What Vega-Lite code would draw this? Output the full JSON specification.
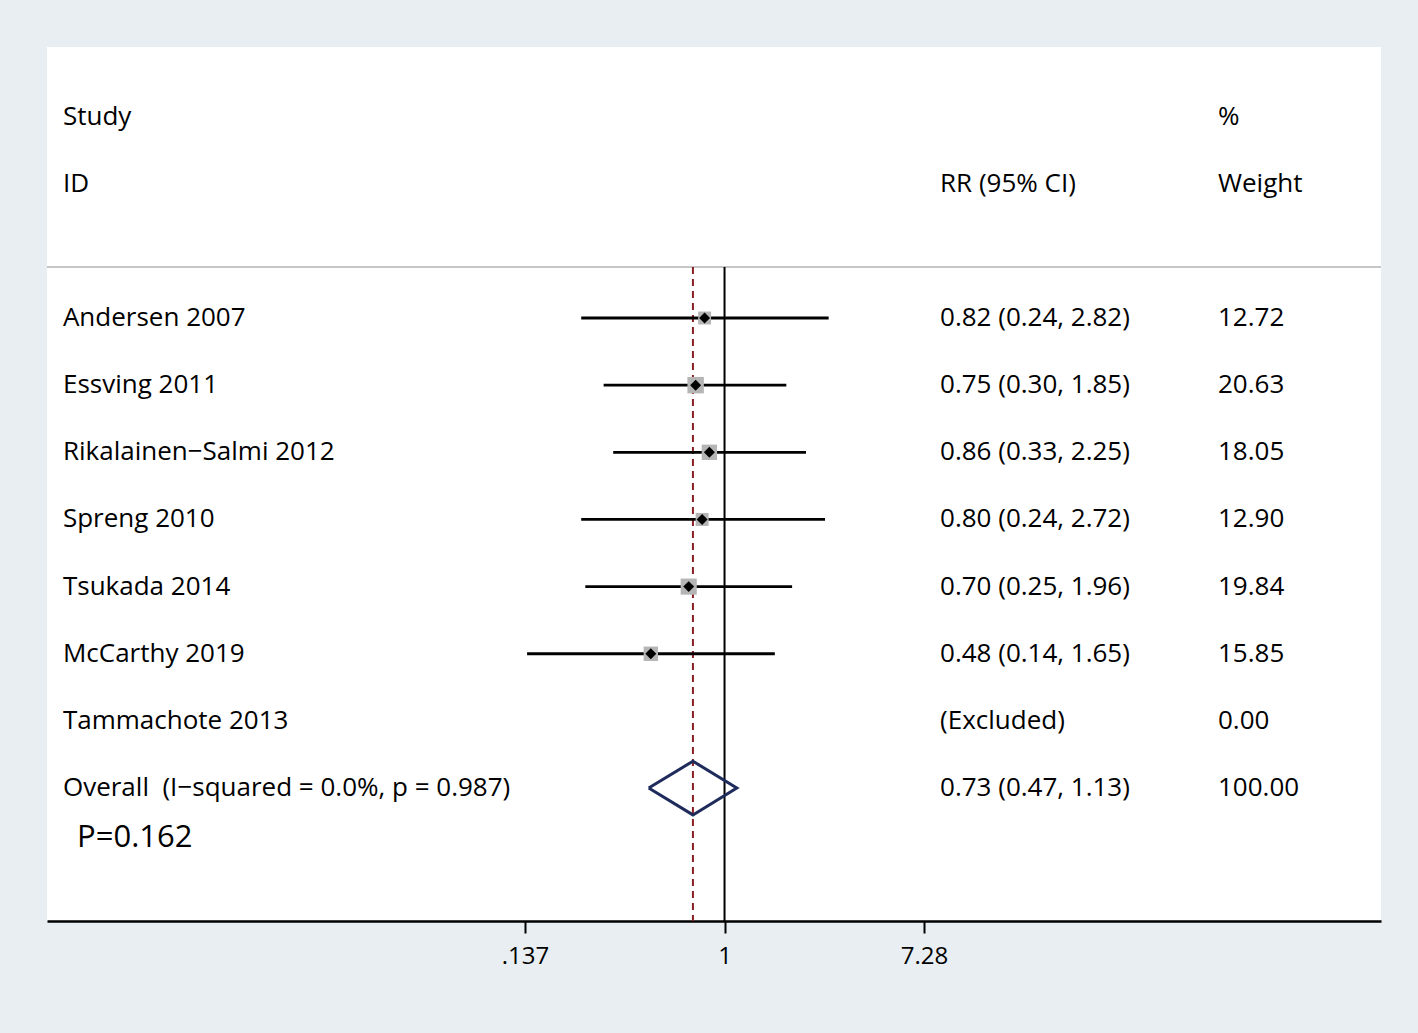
{
  "$schema": "https://vega.github.io/schema/vega-lite/v6.json",
  "width": 1334,
  "height": 874,
  "autosize": {"type": "none"},
  "padding": {"left": 47, "top": 47, "right": 37, "bottom": 112},
  "background": "#e8eef1",
  "config": {"view": {"stroke": null, "fill": "white"}, "text": {"font": "Open Sans"}},
  "datasets": {
    "est": [
      {"study": "Andersen 2007", "row": 1, "rr": 0.82, "lo": 0.24, "hi": 2.82, "weight": 12.72},
      {"study": "Essving 2011", "row": 2, "rr": 0.75, "lo": 0.30, "hi": 1.85, "weight": 20.63},
      {"study": "Rikalainen−Salmi 2012", "row": 3, "rr": 0.86, "lo": 0.33, "hi": 2.25, "weight": 18.05},
      {"study": "Spreng 2010", "row": 4, "rr": 0.80, "lo": 0.24, "hi": 2.72, "weight": 12.90},
      {"study": "Tsukada 2014", "row": 5, "rr": 0.70, "lo": 0.25, "hi": 1.96, "weight": 19.84},
      {"study": "McCarthy 2019", "row": 6, "rr": 0.48, "lo": 0.14, "hi": 1.65, "weight": 15.85}
    ],
    "pooled": [{"rr": 0.73, "lo": 0.47, "hi": 1.13, "row": 8}],
    "diamond": [
      {"x": 0.47, "y": 8, "o": 1},
      {"x": 0.73, "y": 7.6, "o": 2},
      {"x": 1.13, "y": 8, "o": 3},
      {"x": 0.73, "y": 8.4, "o": 4},
      {"x": 0.47, "y": 8, "o": 5}
    ],
    "table": [
      {"row": -2, "study": "Study", "ci": "", "wt": "%"},
      {"row": -1, "study": "ID", "ci": "RR (95% CI)", "wt": "Weight"},
      {"row": 1, "study": "Andersen 2007", "ci": "0.82 (0.24, 2.82)", "wt": "12.72"},
      {"row": 2, "study": "Essving 2011", "ci": "0.75 (0.30, 1.85)", "wt": "20.63"},
      {"row": 3, "study": "Rikalainen−Salmi 2012", "ci": "0.86 (0.33, 2.25)", "wt": "18.05"},
      {"row": 4, "study": "Spreng 2010", "ci": "0.80 (0.24, 2.72)", "wt": "12.90"},
      {"row": 5, "study": "Tsukada 2014", "ci": "0.70 (0.25, 1.96)", "wt": "19.84"},
      {"row": 6, "study": "McCarthy 2019", "ci": "0.48 (0.14, 1.65)", "wt": "15.85"},
      {"row": 7, "study": "Tammachote 2013", "ci": "(Excluded)", "wt": "0.00"},
      {"row": 8, "study": "Overall\u00a0\u00a0(I−squared = 0.0%, p = 0.987)", "ci": "0.73 (0.47, 1.13)", "wt": "100.00"}
    ]
  },
  "layer": [
    {
      "data": {"values": [{}]},
      "mark": {"type": "rule", "color": "#c6c6c6", "strokeWidth": 2},
      "encoding": {
        "y": {"datum": 0.24, "type": "quantitative", "scale": {"domain": [-3.036, 9.98], "reverse": true, "zero": false, "nice": false}, "axis": null}
      }
    },
    {
      "data": {"values": [{}]},
      "mark": {"type": "rule", "color": "black", "strokeWidth": 2},
      "encoding": {
        "x": {"datum": 1, "type": "quantitative", "scale": {"type": "log", "domain": [0.001175, 690], "nice": false},
          "axis": {"title": null, "values": [0.137, 1, 7.28], "labelExpr": "replace(format(datum.value, '.3~g'), '0.', '.')", "grid": false,
            "domainColor": "black", "domainWidth": 2.5, "tickColor": "black", "tickWidth": 2, "tickSize": 12,
            "labelFont": "Open Sans", "labelFontSize": 24, "labelColor": "black", "labelPadding": 11}},
        "y": {"datum": 0.24, "type": "quantitative", "axis": null},
        "y2": {"datum": 9.98}
      }
    },
    {
      "data": {"name": "pooled"},
      "mark": {"type": "rule", "color": "#8b1f26", "strokeWidth": 2, "strokeDash": [7, 5]},
      "encoding": {
        "x": {"field": "rr", "type": "quantitative", "title": null},
        "y": {"datum": 0.24, "type": "quantitative", "axis": null},
        "y2": {"datum": 9.98}
      }
    },
    {
      "data": {"name": "est"},
      "mark": {"type": "rule", "color": "black", "strokeWidth": 2.8},
      "encoding": {
        "x": {"field": "lo", "type": "quantitative", "title": null},
        "x2": {"field": "hi"},
        "y": {"field": "row", "type": "quantitative", "axis": null}
      }
    },
    {
      "data": {"name": "est"},
      "mark": {"type": "point", "shape": "square", "filled": true, "color": "#b5b5b5", "opacity": 1},
      "encoding": {
        "x": {"field": "rr", "type": "quantitative", "title": null},
        "y": {"field": "row", "type": "quantitative", "axis": null},
        "size": {"field": "weight", "type": "quantitative", "scale": {"domain": [0, 20.63], "range": [0, 270]}, "legend": null}
      }
    },
    {
      "data": {"name": "est"},
      "mark": {"type": "point", "shape": "diamond", "filled": true, "color": "black", "size": 120, "opacity": 1},
      "encoding": {
        "x": {"field": "rr", "type": "quantitative", "title": null},
        "y": {"field": "row", "type": "quantitative", "axis": null}
      }
    },
    {
      "data": {"name": "diamond"},
      "mark": {"type": "line", "color": "#1f2b5b", "strokeWidth": 3},
      "encoding": {
        "x": {"field": "x", "type": "quantitative", "title": null},
        "y": {"field": "y", "type": "quantitative", "axis": null},
        "order": {"field": "o"}
      }
    },
    {
      "data": {"name": "table"},
      "mark": {"type": "text", "align": "left", "baseline": "middle", "fontSize": 26, "font": "Open Sans", "color": "black"},
      "encoding": {
        "x": {"datum": 0.001377, "type": "quantitative"},
        "y": {"field": "row", "type": "quantitative", "axis": null},
        "text": {"field": "study"}
      }
    },
    {
      "data": {"name": "table"},
      "mark": {"type": "text", "align": "left", "baseline": "middle", "fontSize": 26, "font": "Open Sans", "color": "black"},
      "encoding": {
        "x": {"datum": 8.55, "type": "quantitative"},
        "y": {"field": "row", "type": "quantitative", "axis": null},
        "text": {"field": "ci"}
      }
    },
    {
      "data": {"name": "table"},
      "mark": {"type": "text", "align": "left", "baseline": "middle", "fontSize": 26, "font": "Open Sans", "color": "black"},
      "encoding": {
        "x": {"datum": 136.1, "type": "quantitative"},
        "y": {"field": "row", "type": "quantitative", "axis": null},
        "text": {"field": "wt"}
      }
    },
    {
      "data": {"values": [{"label": "P=0.162"}]},
      "mark": {"type": "text", "align": "left", "baseline": "middle", "fontSize": 31, "font": "Open Sans", "color": "black"},
      "encoding": {
        "x": {"datum": 0.001585, "type": "quantitative"},
        "y": {"datum": 8.75, "type": "quantitative", "axis": null},
        "text": {"field": "label"}
      }
    }
  ]
}
